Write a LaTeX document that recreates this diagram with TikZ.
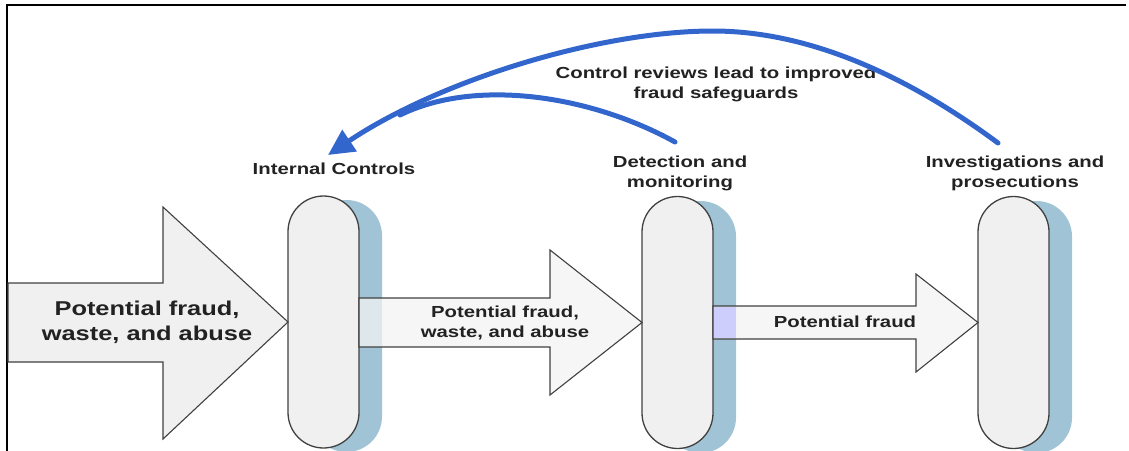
\documentclass[tikz,border=0pt]{standalone}
\usepackage{fontspec}
\setmainfont{Liberation Sans}[FakeStretch=1.27]
\usetikzlibrary{arrows.meta,calc}
\definecolor{flowblue}{RGB}{51,102,204}
\definecolor{shade}{RGB}{160,196,214}
\definecolor{capfill}{RGB}{240,240,240}
\definecolor{arrowfill}{RGB}{243,243,243}
\definecolor{edge}{RGB}{64,64,64}
\definecolor{ink}{RGB}{34,34,34}
\definecolor{tint}{RGB}{206,206,252}

\begin{document}
\begin{tikzpicture}[x=1pt,y=-1pt,
  capsule/.style={draw=edge, line width=1.3pt, fill=capfill, rounded corners=35.5pt,
    minimum width=71pt, minimum height=252pt, inner sep=0pt, outer sep=0pt},
  capshadow/.style={fill=shade, draw=none, rounded corners=35.5pt,
    minimum width=71pt, minimum height=252pt, inner sep=0pt, outer sep=0pt},
  blockarrow/.style={draw=edge, line width=1.1pt, fill=arrowfill, line join=miter},
  stagelabel/.style={font=\bfseries\fontsize{16}{19.5}\selectfont, text=ink, align=center, inner sep=0pt},
  flowtext/.style={font=\bfseries\fontsize{16}{20}\selectfont, text=ink, align=center, inner sep=0pt},
  bigtext/.style={font=\bfseries\fontsize{20}{25}\selectfont, text=ink, align=center, inner sep=0pt},
  feedback/.style={draw=flowblue, line width=5pt, line cap=round},
]
\useasboundingbox (0,0) rectangle (1129,450);
\clip (0,0) rectangle (1129,450);

% open frame (left and top edges)
\draw[line width=2pt, black] (7,452) -- (7,5) -- (1126,5);

% capsule shadows
\node[capshadow] (sh1) at (346.5,326) {};
\node[capshadow] (sh2) at (700.5,327) {};
\node[capshadow] (sh3) at (1036.5,327) {};

% capsules
\node[capsule] (cap1) at (323.5,322) {};
\node[capsule] (cap2) at (677.5,322.5) {};
\node[capsule] (cap3) at (1013.5,322.5) {};

% block arrows
\draw[blockarrow, fill=capfill] (8,283) -- (163,283) -- (163,207) -- (cap1.west)
  -- (163,439) -- (163,362) -- (8,362) -- cycle;
\draw[blockarrow, fill opacity=0.75] (359,298) -- (550,298) -- (550,250) -- (cap2.west)
  -- (550,395) -- (550,347) -- (359,347) -- cycle;
\draw[blockarrow, fill opacity=0.75] (713,306) -- (916,306) -- (916,274) -- (cap3.west)
  -- (916,372) -- (916,339) -- (713,339) -- cycle;
% tinted part of the last shaft where it crosses the shadow
\fill[tint] (713.6,306.6) rectangle (736,338.4);

% texts on the block arrows
\node[bigtext] (t1) at (147,322) {Potential fraud,\\waste, and abuse};
\node[flowtext] (t2) at (505,323) {Potential fraud,\\waste, and abuse};
\node[flowtext] (t3) at (845,322) {Potential fraud};

% stage labels
\node[stagelabel] (lblIC) at (334,169) {Internal Controls};
\node[stagelabel] (lblDet) at (680,173.4) {Detection and\\monitoring};
\node[stagelabel] (lblInv) at (1015,173.4) {Investigations and\\prosecutions};
\node[stagelabel] (note) at (716,84.4) {Control reviews lead to improved\\fraud safeguards};

% feedback arrows
\coordinate (fromInv) at (998,143);
\coordinate (fromDet) at (675,142);
\coordinate (toIC) at (328,155);
\coordinate (merge) at (400,115);
\coordinate (crest) at (713,31);

\draw[feedback] (fromDet) .. controls (590,95) and (475,78) .. (merge);
\draw[feedback, -{Triangle[length=26pt,width=25pt]}] (fromInv)
  .. controls (886,60) and (790,31) .. (crest)
  .. controls (600,31) and (440,80) .. (toIC);
\end{tikzpicture}
\end{document}
